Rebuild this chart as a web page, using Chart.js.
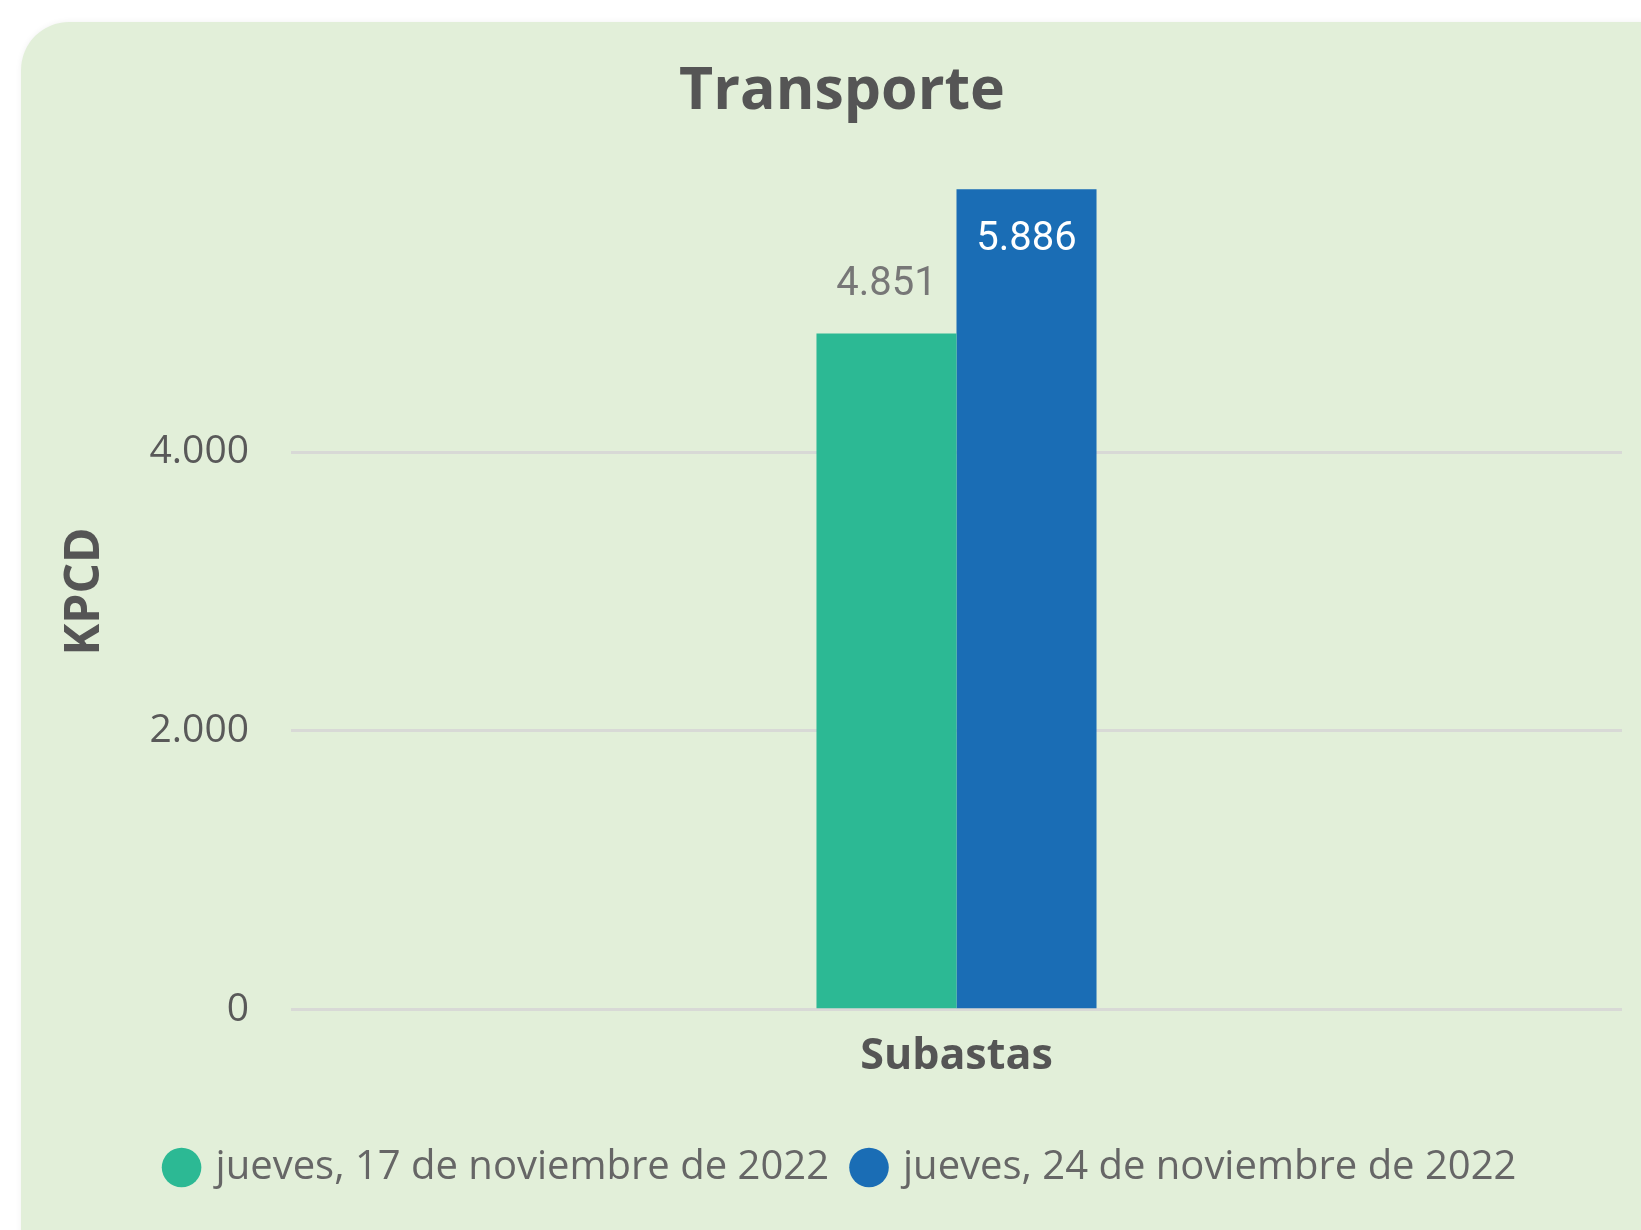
<!DOCTYPE html>
<html>
<head>
<meta charset="utf-8">
<script src="https://cdn.jsdelivr.net/npm/chart.js@4/dist/chart.umd.min.js"></script>
<style>
  html, body { margin: 0; padding: 0; background: #ffffff; width: 1641px; height: 1230px; overflow: hidden; }
  #card {
    position: absolute; left: 21px; top: 22px; width: 1700px; height: 1300px;
    background: #E2EFD9; border-radius: 48px;
    box-shadow: 0 0 6px rgba(0,0,0,0.06);
  }
  #c { position: absolute; left: 21px; top: 22px; }
</style>
</head>
<body>
<div id="card"></div>
<canvas id="c" width="1642" height="1208" style="width:1642px;height:1208px"></canvas>
<script>
const chartTitle = 'Transporte';
const categories = ['Subastas'];
const seriesNames = ['jueves, 17 de noviembre de 2022', 'jueves, 24 de noviembre de 2022'];
const seriesValues = [[4851], [5886]];
const seriesColors = ['#2CB994', '#1A6DB5'];
const yTicks = [0, 2000, 4000];
const yAxisTitle = 'KPCD';

function fmt(n) { return String(n).replace(/\B(?=(\d{3})+(?!\d))/g, '.'); }

const labelPlugin = {
  id: 'valueLabels',
  afterDatasetsDraw(chart) {
    const ctx = chart.ctx;
    ctx.save();
    ctx.font = '40px Roboto';
    ctx.textAlign = 'center';
    ctx.textBaseline = 'middle';
    chart.data.datasets.forEach((ds, i) => {
      const meta = chart.getDatasetMeta(i);
      meta.data.forEach((el, j) => {
        const v = ds.data[j];
        if (i === 0) {
          ctx.fillStyle = '#777777';
          ctx.fillText(fmt(v), el.x, el.y - 48);
        } else {
          ctx.fillStyle = '#ffffff';
          ctx.fillText(fmt(v), el.x, el.y + 51);
        }
      });
    });
    ctx.restore();
  }
};

new Chart(document.getElementById('c'), {
  type: 'bar',
  data: {
    labels: categories,
    datasets: seriesNames.map((name, i) => ({
      label: name,
      data: seriesValues[i],
      backgroundColor: seriesColors[i],
      borderWidth: 0,
      categoryPercentage: 0.2104,
      barPercentage: 1.0
    }))
  },
  options: {
    responsive: false,
    animation: false,
    devicePixelRatio: 1,
    layout: { padding: { left: 41, right: 41, top: 0, bottom: 32.5 } },
    plugins: {
      title: {
        display: true,
        text: chartTitle,
        color: '#555555',
        font: { family: 'Open Sans', size: 59, weight: 'bold' },
        padding: { top: 35, bottom: 45.5 }
      },
      legend: {
        position: 'bottom',
        labels: {
          usePointStyle: true,
          pointStyle: 'circle',
          boxWidth: 28,
          boxHeight: 28,
          padding: 26,
          color: '#666666',
          font: { family: 'Open Sans', size: 40 }
        }
      },
      tooltip: { enabled: false }
    },
    scales: {
      x: {
        grid: { display: false },
        border: { display: false },
        afterFit: (scale) => { scale.height = scale.height + 25; },
        ticks: {
          color: '#555555',
          padding: -11,
          font: { family: 'Open Sans', size: 43, weight: 'bold', lineHeight: 2.342 }
        }
      },
      y: {
        min: 0,
        max: 6000,
        afterBuildTicks: (scale) => { scale.ticks = yTicks.map(v => ({ value: v })); },
        afterFit: (scale) => { scale.width = 229; },
        grid: { color: '#D8D9D6', lineWidth: 3, drawTicks: false },
        border: { display: false },
        ticks: {
          color: '#595959',
          padding: 42,
          font: { family: 'Open Sans', size: 39 },
          callback: (v) => fmt(v)
        },
        title: {
          display: true,
          text: yAxisTitle,
          color: '#555555',
          font: { family: 'Open Sans', size: 48, weight: 'bold' },
          padding: { top: -5, bottom: 0 }
        }
      }
    }
  },
  plugins: [labelPlugin]
});
</script>
</body>
</html>
